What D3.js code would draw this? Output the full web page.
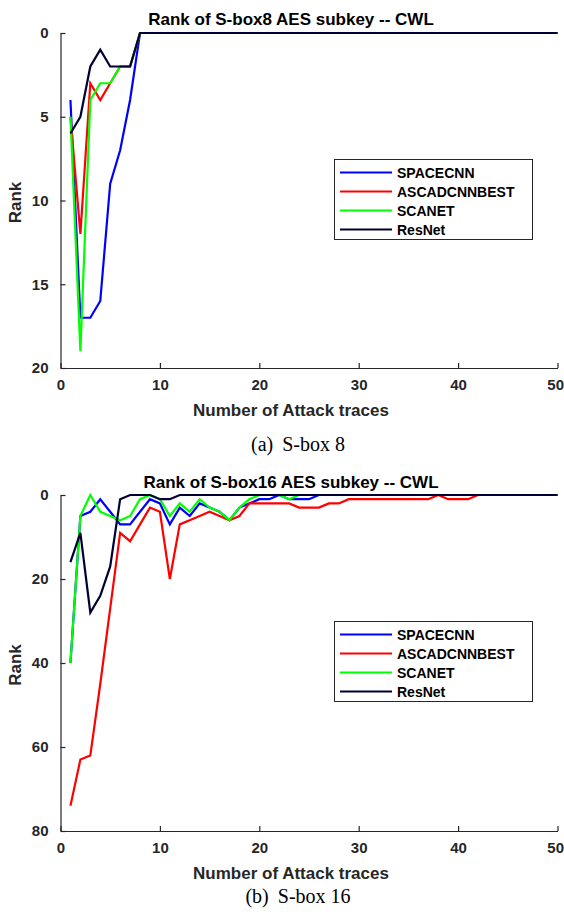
<!DOCTYPE html>
<html>
<head>
<meta charset="utf-8">
<script src="https://cdn.jsdelivr.net/npm/d3@7"></script>
<style>
  body { margin: 0; background: #fff; }
  svg { display: block; }
</style>
</head>
<body>
<svg id="fig" width="564" height="916"></svg>
<script>
// series names and colours (legend order, also draw order)
const seriesNames = ["SPACECNN", "ASCADCNNBEST", "SCANET", "ResNet"];
const seriesColors = ["#0000ff", "#ff0000", "#00ff00", "#000033"];

const traces = d3.range(1, 51);
const xTicks = [0, 10, 20, 30, 40, 50];

// (a) S-box 8 ranks, traces 1..50
const sbox8_spacecnn = [4,17,17,16,9,7,4,0,0,0,0,0,0,0,0,0,0,0,0,0,0,0,0,0,0,0,0,0,0,0,0,0,0,0,0,0,0,0,0,0,0,0,0,0,0,0,0,0,0,0];
const sbox8_ascad    = [5,12,3,4,3,2,2,0,0,0,0,0,0,0,0,0,0,0,0,0,0,0,0,0,0,0,0,0,0,0,0,0,0,0,0,0,0,0,0,0,0,0,0,0,0,0,0,0,0,0];
const sbox8_scanet   = [5,19,4,3,3,2,2,0,0,0,0,0,0,0,0,0,0,0,0,0,0,0,0,0,0,0,0,0,0,0,0,0,0,0,0,0,0,0,0,0,0,0,0,0,0,0,0,0,0,0];
const sbox8_resnet   = [6,5,2,1,2,2,2,0,0,0,0,0,0,0,0,0,0,0,0,0,0,0,0,0,0,0,0,0,0,0,0,0,0,0,0,0,0,0,0,0,0,0,0,0,0,0,0,0,0,0];
const sbox8_yTicks = [0, 5, 10, 15, 20];

// (b) S-box 16 ranks, traces 1..50
const sbox16_spacecnn = [40,5,4,1,4,7,7,4,1,2,7,3,5,2,3,4,6,3,2,1,1,0,1,1,1,0,0,0,0,0,0,0,0,0,0,0,0,0,0,0,0,0,0,0,0,0,0,0,0,0];
const sbox16_ascad    = [74,63,62,45,27,9,11,7,3,4,20,7,6,5,4,5,6,5,2,2,2,2,2,3,3,3,2,2,1,1,1,1,1,1,1,1,1,0,1,1,1,0,0,0,0,0,0,0,0,0];
const sbox16_scanet   = [40,5,0,4,5,6,5,1,0,1,5,2,4,1,3,4,6,3,1,0,0,0,1,0,0,0,0,0,0,0,0,0,0,0,0,0,0,0,0,0,0,0,0,0,0,0,0,0,0,0];
const sbox16_resnet   = [16,9,28,24,17,1,0,0,0,1,1,0,0,0,0,0,0,0,0,0,0,0,0,0,0,0,0,0,0,0,0,0,0,0,0,0,0,0,0,0,0,0,0,0,0,0,0,0,0,0];
const sbox16_yTicks = [0, 20, 40, 60, 80];

const svg = d3.select("#fig");
const axisColor = "#262626";
const sans = "'Liberation Sans', Arial, sans-serif";

function drawPanel(opt) {
  const x = d3.scaleLinear().domain([0, 50]).range([60.5, 557.5]);
  const y = d3.scaleLinear().domain([0, opt.yMax]).range([opt.top, opt.bottom]);

  const g = svg.append("g");

  // lines
  const line = d3.line().x((d, i) => x(traces[i])).y(d => y(d));
  opt.series.forEach(function (s, k) {
    g.append("path")
      .datum(s)
      .attr("d", line)
      .attr("fill", "none")
      .attr("stroke", seriesColors[k])
      .attr("stroke-width", 2.2)
      .attr("stroke-linejoin", "miter");
  });

  // axes (box off, ticks inward)
  const xAxis = g.append("g")
    .attr("transform", "translate(0," + opt.bottom + ")")
    .call(d3.axisBottom(x).tickValues(xTicks).tickSizeInner(-5).tickSizeOuter(0).tickPadding(11));
  const yAxis = g.append("g")
    .attr("transform", "translate(60.5,0)")
    .call(d3.axisLeft(y).tickValues(opt.yTicks).tickSizeInner(-5).tickSizeOuter(0).tickPadding(12));
  [xAxis, yAxis].forEach(function (a) {
    a.select(".domain").attr("stroke", axisColor).attr("stroke-width", 1.2);
    a.selectAll(".tick line").attr("stroke", axisColor).attr("stroke-width", 1.2);
    a.selectAll(".tick text")
      .attr("fill", axisColor)
      .style("font-family", sans)
      .style("font-weight", "bold")
      .style("font-size", "15px");
  });
  xAxis.selectAll(".tick text").attr("dy", "0.71em");
  // keep the last x label inside the page edge
  xAxis.selectAll(".tick text").filter(d => d === 50)
    .attr("text-anchor", "end").attr("dx", 6);

  // title
  g.append("text")
    .attr("x", 291).attr("y", opt.titleY)
    .attr("text-anchor", "middle")
    .style("font-family", sans).style("font-weight", "bold").style("font-size", "17px")
    .attr("fill", "#000")
    .text(opt.title);

  // axis labels
  g.append("text")
    .attr("x", 291).attr("y", opt.xlabelY)
    .attr("text-anchor", "middle")
    .style("font-family", sans).style("font-weight", "bold").style("font-size", "17px")
    .attr("fill", axisColor)
    .text("Number of Attack traces");
  g.append("text")
    .attr("transform", "translate(21," + ((opt.top + opt.bottom) / 2 + 2) + ") rotate(-90)")
    .attr("text-anchor", "middle")
    .style("font-family", sans).style("font-weight", "bold").style("font-size", "17px")
    .attr("fill", axisColor)
    .text("Rank");

  // legend
  const lg = g.append("g").attr("transform", "translate(334," + opt.legendTop + ")");
  lg.append("rect")
    .attr("x", 0.5).attr("y", 0.5).attr("width", 198).attr("height", 80)
    .attr("fill", "#fff").attr("stroke", axisColor).attr("stroke-width", 1);
  seriesNames.forEach(function (name, k) {
    const ry = 13.5 + k * 19;
    lg.append("line")
      .attr("x1", 6).attr("x2", 58).attr("y1", ry).attr("y2", ry)
      .attr("stroke", seriesColors[k]).attr("stroke-width", 2.2);
    lg.append("text")
      .attr("x", 63).attr("y", ry + 5)
      .style("font-family", sans).style("font-weight", "bold").style("font-size", "14px")
      .attr("fill", "#000")
      .text(name);
  });

  // caption
  const cap = g.append("text")
    .attr("x", 298).attr("y", opt.captionY)
    .attr("text-anchor", "middle")
    .style("font-family", "'Liberation Serif', 'Times New Roman', serif")
    .style("font-size", "20px")
    .attr("fill", "#000");
  cap.append("tspan").text(opt.capTag);
  cap.append("tspan").attr("dx", 9).text(opt.capText);
}

drawPanel({
  top: 33, bottom: 368, yMax: 20, yTicks: sbox8_yTicks,
  series: [sbox8_spacecnn, sbox8_ascad, sbox8_scanet, sbox8_resnet],
  title: "Rank of S-box8 AES subkey -- CWL", titleY: 25,
  xlabelY: 416, legendTop: 159, captionY: 451,
  capTag: "(a)", capText: "S-box 8"
});

drawPanel({
  top: 495, bottom: 831, yMax: 80, yTicks: sbox16_yTicks,
  series: [sbox16_spacecnn, sbox16_ascad, sbox16_scanet, sbox16_resnet],
  title: "Rank of S-box16 AES subkey -- CWL", titleY: 488,
  xlabelY: 879, legendTop: 621, captionY: 903,
  capTag: "(b)", capText: "S-box 16"
});
</script>
</body>
</html>
